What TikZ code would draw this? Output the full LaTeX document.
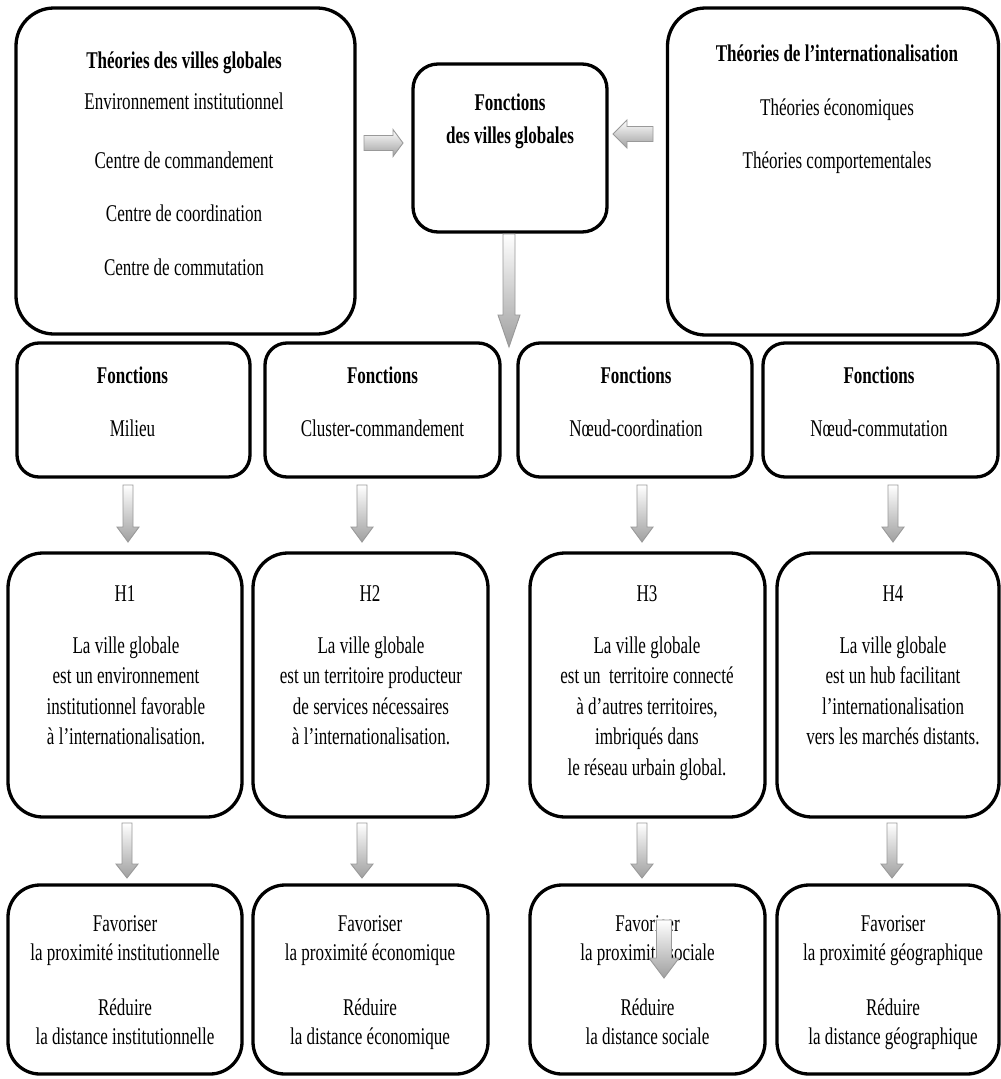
\documentclass[tikz,border=0pt]{standalone}
\usepackage{fontspec}
\setmainfont{Liberation Serif}[FakeStretch=0.71]
\newcommand\barrowdown[6]{\path[blockarrow] (#1-#5,#2) -- (#1+#5,#2) -- (#1+#5,#3) -- (#1+#6,#3) -- (#1,#4) -- (#1-#6,#3) -- (#1-#5,#3) -- cycle;}
\newcommand\barrowhoriz[6]{\path[blockarrow] (#2,#1-#5) -- (#3,#1-#5) -- (#3,#1-#6) -- (#4,#1) -- (#3,#1+#6) -- (#3,#1+#5) -- (#2,#1+#5) -- cycle;}
\begin{document}
\begin{tikzpicture}[x=1pt,y=-1pt,
  box/.style={draw=black, line width=3.3pt, fill=white, rounded corners=#1, inner sep=0pt, outer sep=0pt},
  lbl/.style={anchor=base, inner sep=0pt, outer sep=0pt, font=\fontsize{24}{30}\selectfont},
  hd/.style={anchor=base, inner sep=0pt, outer sep=0pt, font=\fontsize{24}{30}\selectfont\bfseries},
  para/.style={anchor=north, inner sep=0pt, outer sep=0pt, align=center, font=\fontsize{24}{#1}\selectfont},
  blockarrow/.style={draw=gray!80, line width=0.9pt, top color=white, bottom color=gray!75}]
\useasboundingbox[fill=white] (0,0) rectangle (1001,1079);

% top row boxes
\node[box=38, minimum width=339pt, minimum height=326pt] (tl) at (185.5,171) {};
\node[box=25, minimum width=194pt, minimum height=168pt] (ctr) at (510,148) {};
\node[box=38, minimum width=331pt, minimum height=327pt] (tr) at (833,171.5) {};

% row 2
\node[box=22, minimum width=233pt, minimum height=134pt] (fA) at (133.5,410) {};
\node[box=22, minimum width=235pt, minimum height=134pt] (fB) at (382.5,410) {};
\node[box=22, minimum width=234pt, minimum height=134pt] (fC) at (635,410) {};
\node[box=22, minimum width=235pt, minimum height=134pt] (fD) at (880.5,410) {};

% row 3
\node[box=35, minimum width=234pt, minimum height=264pt] (hA) at (125,685) {};
\node[box=35, minimum width=235pt, minimum height=264pt] (hB) at (370.5,685) {};
\node[box=35, minimum width=235pt, minimum height=264pt] (hC) at (647.5,685) {};
\node[box=35, minimum width=222pt, minimum height=264pt] (hD) at (888,685) {};

% row 4
\node[box=32, minimum width=234pt, minimum height=189pt] (rA) at (125,979.5) {};
\node[box=32, minimum width=235pt, minimum height=189pt] (rB) at (370.5,979.5) {};
\node[box=32, minimum width=235pt, minimum height=189pt] (rC) at (647.5,979.5) {};
\node[box=32, minimum width=222pt, minimum height=189pt] (rD) at (888,979.5) {};

% top-left texts
\node[hd]  (tlh) at (184,68) {Théories des villes globales};
\node[lbl] (tl1) at (184,109) {Environnement institutionnel};
\node[lbl] (tl2) at (184,168) {Centre de commandement};
\node[lbl] (tl3) at (184,221) {Centre de coordination};
\node[lbl] (tl4) at (184,275) {Centre de commutation};

% centre texts
\node[hd] (c1) at (510,110) {Fonctions};
\node[hd] (c2) at (510,143) {des villes globales};

% top-right texts
\node[hd]  (trh) at (837,61) {Théories de l’internationalisation};
\node[lbl] (tr1) at (837,115) {Théories économiques};
\node[lbl] (tr2) at (837,168) {Théories comportementales};

% row 2 texts
\node[hd]  (fAh) at (132.5,383) {Fonctions};
\node[lbl] (fAt) at (132.5,436) {Milieu};
\node[hd]  (fBh) at (382.5,383) {Fonctions};
\node[lbl] (fBt) at (382.5,436) {Cluster-commandement};
\node[hd]  (fCh) at (636,383) {Fonctions};
\node[lbl] (fCt) at (636,436) {Nœud-coordination};
\node[hd]  (fDh) at (879,383) {Fonctions};
\node[lbl] (fDt) at (879,436) {Nœud-commutation};

% row 3 texts
\node[lbl] (hAh) at (125,601) {H1};
\node[lbl] (hBh) at (370,601) {H2};
\node[lbl] (hCh) at (647,601) {H3};
\node[lbl] (hDh) at (893,601) {H4};
\node[para=30.5] (hAt) at (126,631.65) {\strut La ville globale\\est un environnement\\institutionnel favorable\\à l’internationalisation.};
\node[para=30.5] (hBt) at (371,631.65) {\strut La ville globale\\est un territoire producteur\\de services nécessaires\\à l’internationalisation.};
\node[para=30.5] (hCt) at (647,631.65) {\strut La ville globale\\est un~ territoire connecté\\à d’autres territoires,\\imbriqués dans\\le réseau urbain global.};
\node[para=30.5] (hDt) at (893,631.65) {\strut La ville globale\\est un hub facilitant\\l’internationalisation\\vers les marchés distants.};

% row 4 texts
\node[para=29] (rA1) at (125,910.7) {\strut Favoriser\\la proximité institutionnelle};
\node[para=29] (rA2) at (125,994.7) {\strut Réduire\\la distance institutionnelle};
\node[para=29] (rB1) at (370,910.7) {\strut Favoriser\\la proximité économique};
\node[para=29] (rB2) at (370,994.7) {\strut Réduire\\la distance économique};
\node[para=29] (rC1) at (647.5,910.7) {\strut Favoriser\\la proximité sociale};
\node[para=29] (rC2) at (647.5,994.7) {\strut Réduire\\la distance sociale};
\node[para=29] (rD1) at (893,910.7) {\strut Favoriser\\la proximité géographique};
\node[para=29] (rD2) at (893,994.7) {\strut Réduire\\la distance géographique};

% block arrows
\barrowhoriz{143}{364}{393}{403}{7.5}{13.5}
\barrowhoriz{134}{653}{627}{613}{7.5}{14}
\barrowdown{509}{234}{315}{347}{6}{11}
\barrowdown{128}{485}{527}{542}{5}{11}
\barrowdown{362}{485}{527}{542}{5}{11}
\barrowdown{642}{485}{527}{542}{5}{11}
\barrowdown{893}{485}{527}{542}{5}{11}
\barrowdown{127}{823}{864}{878}{5}{11}
\barrowdown{362}{823}{864}{878}{5}{11}
\barrowdown{642}{823}{864}{878}{5}{11}
\barrowdown{892}{823}{864}{878}{5}{11}
\barrowdown{664}{920}{958}{978}{7.5}{15}
\end{tikzpicture}
\end{document}
